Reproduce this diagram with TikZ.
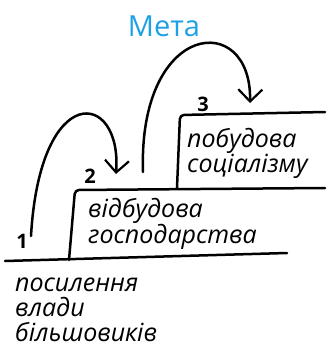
\documentclass[tikz,border=0pt]{standalone}
\usepackage{fontspec}
\setmainfont{Open Sans}
\usetikzlibrary{arrows.meta}
\definecolor{goalblue}{HTML}{1EA0E6}
\begin{document}
\begin{tikzpicture}[x=1pt,y=-1pt,
  stepline/.style={line width=2.5pt, line cap=round, line join=round, rounded corners=4pt},
  jump/.style={line width=2.5pt, line cap=round, -{Straight Barb[length=12pt,width=24pt,line width=2.2pt]}},
  lbl/.style={font=\fontsize{25}{25}\selectfont\itshape, align=left, anchor=north west, inner sep=0pt},
  num/.style={font=\fontsize{20}{20}\selectfont\bfseries, inner sep=0pt}]
\useasboundingbox (0,0) rectangle (329,348);

% goal
\node[font=\fontsize{29}{29}\selectfont, text=goalblue, inner sep=0pt] (goal) at (164,26) {Мета};

% steps
\draw[stepline] (5,261) -- (287,253);
\draw[stepline] (69,260) -- (75,190) -- (325,188);
\draw[stepline] (177,188) -- (180,115) -- (325,112);

% step numbers
\node[num] (n1) at (22,241) {1};
\node[num] (n2) at (90,176) {2};
\node[num] (n3) at (203,104) {3};

% labels
\node[lbl] (s1) at (15,278) {посилення\\влади\\більшовиків};
\node[lbl] (s2) at (88,198) {відбудова\\господарства};
\node[lbl] (s3) at (187,128) {побудова\\соціалізму};

% jumps
\coordinate (a1) at (31,236);
\coordinate (t1) at (116,174);
\coordinate (a2) at (143,172);
\coordinate (t2) at (250,103);
\draw[jump] (a1) .. controls (40,80) and (122,90) .. (t1);
\draw[jump] (a2) .. controls (138,20) and (252,10) .. (t2);
\end{tikzpicture}
\end{document}
